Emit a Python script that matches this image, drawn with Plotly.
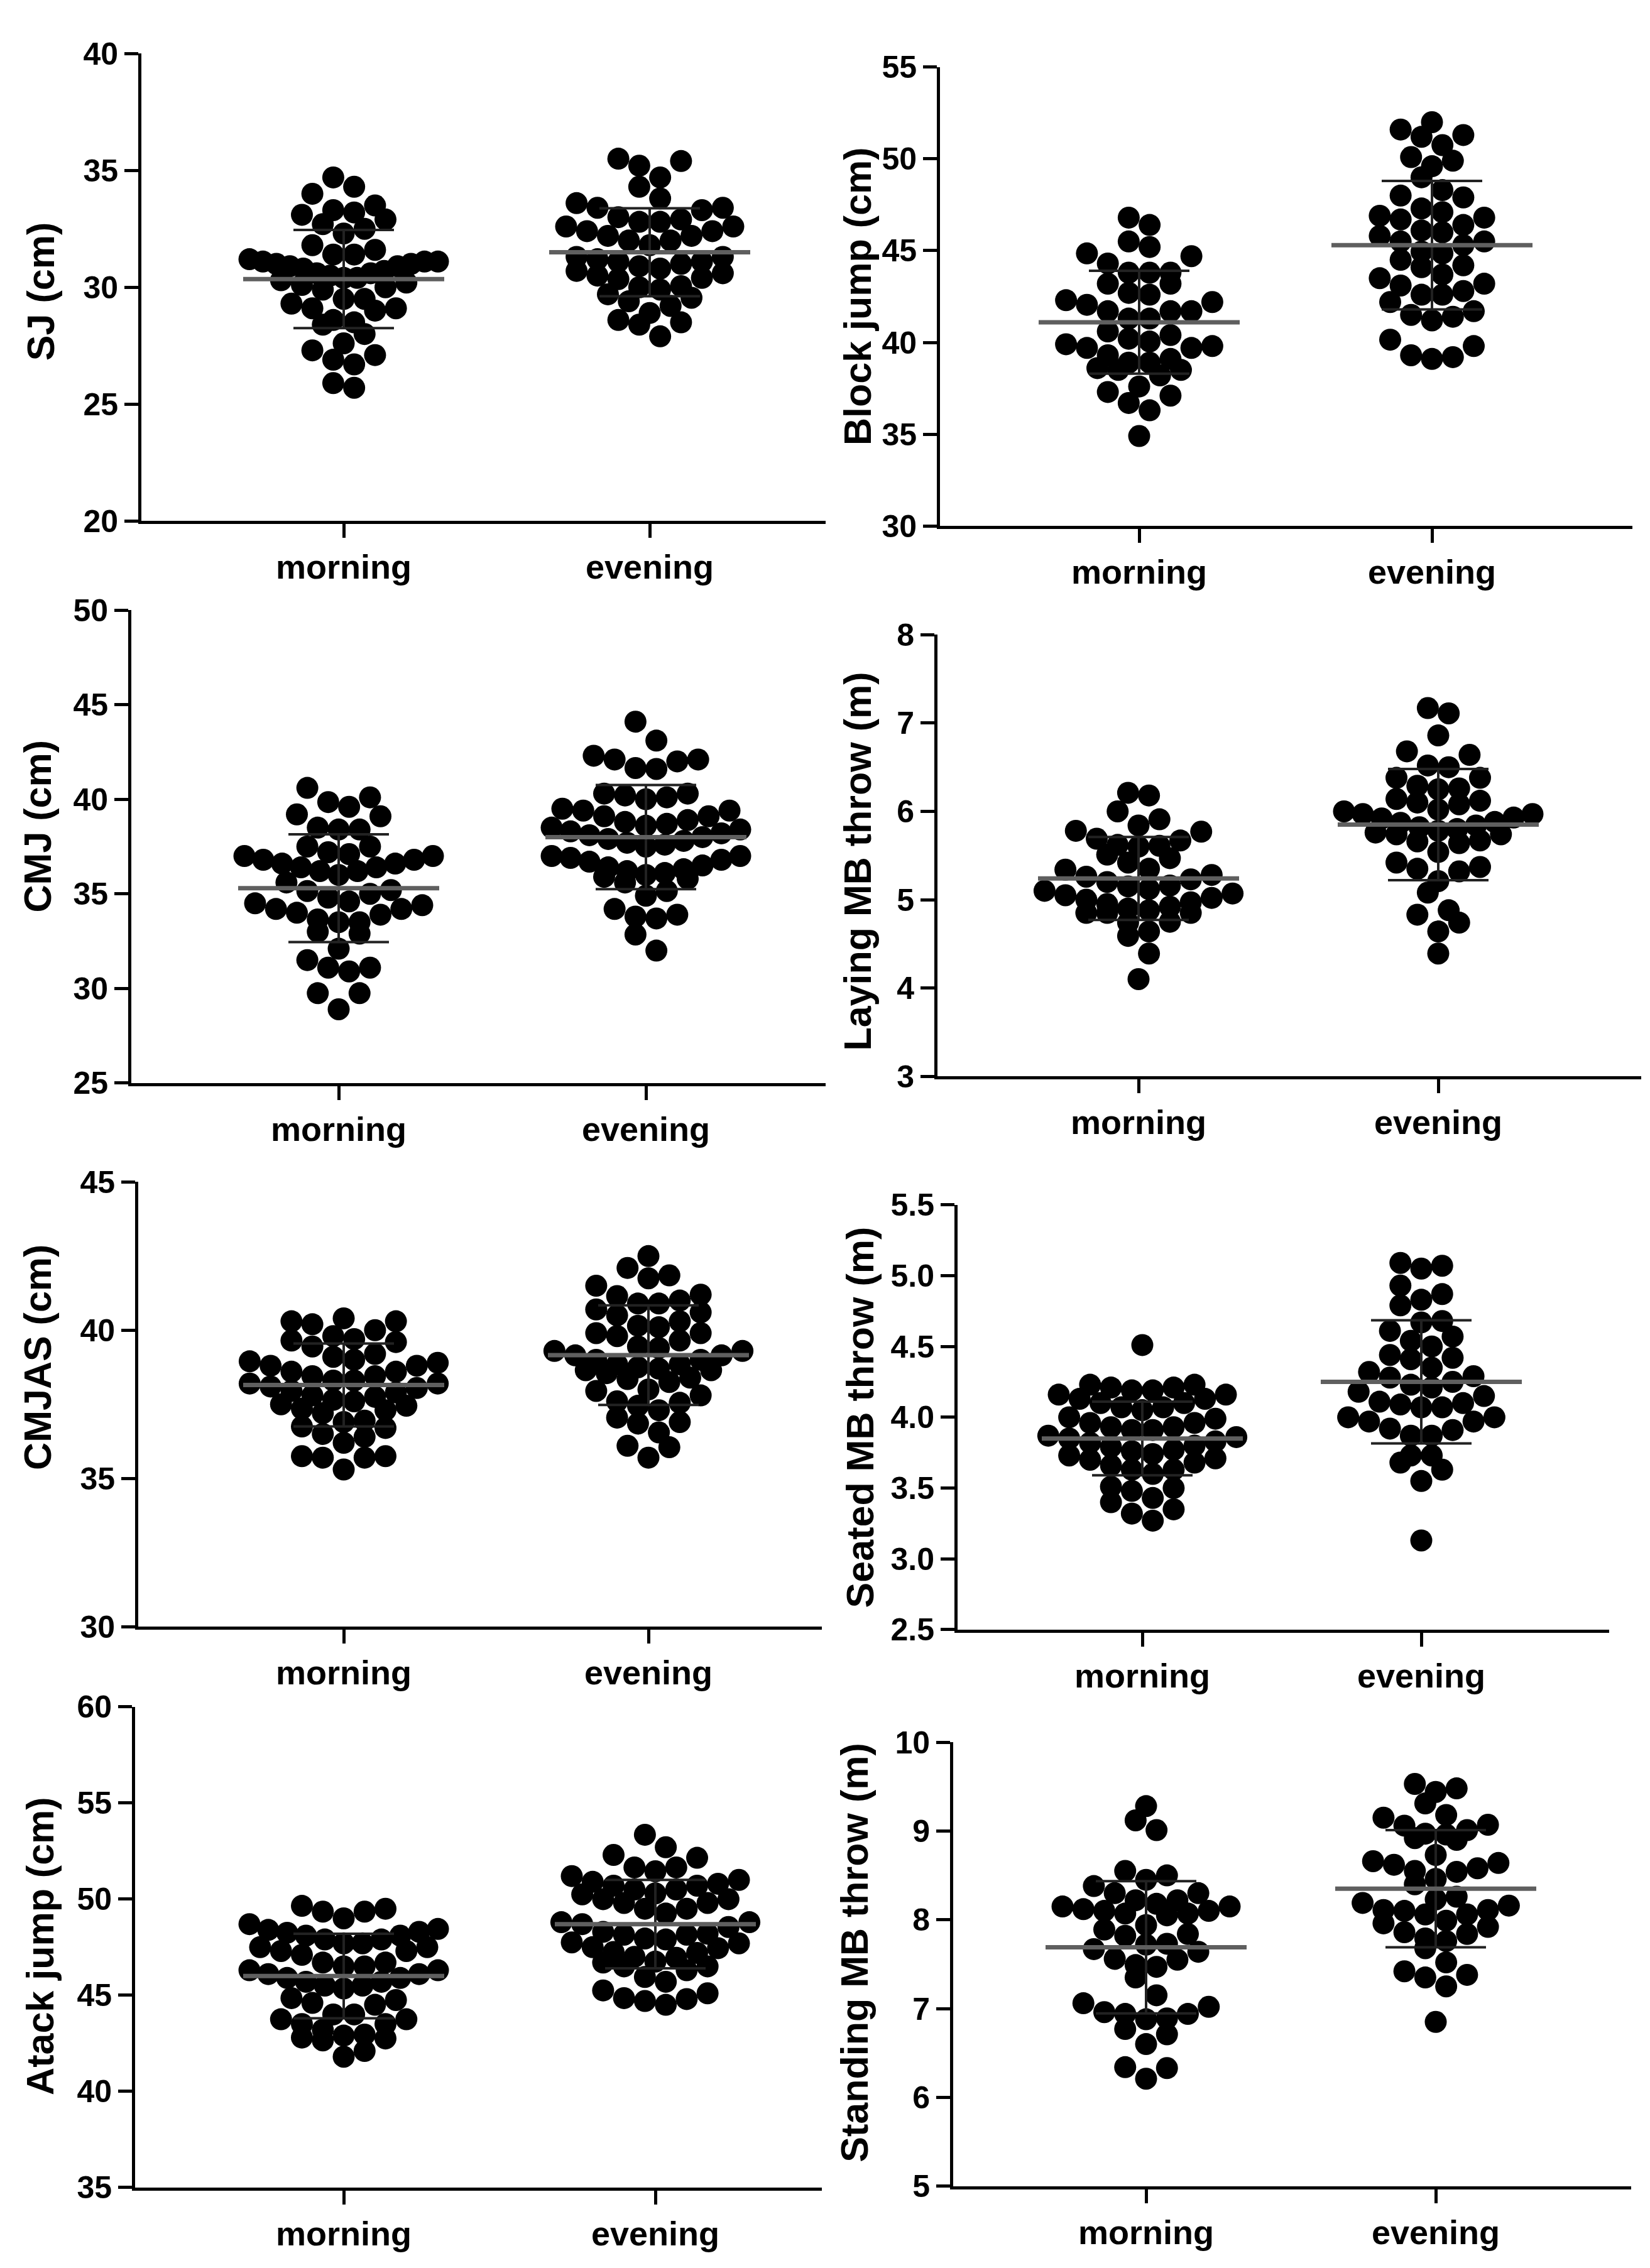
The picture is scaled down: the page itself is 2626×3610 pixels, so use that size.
import numpy as np
import plotly.graph_objects as go

W, H = 2626, 3610

groups = ["morning", "evening"]

# values, one list per column
sj_morning = [34.7, 34.0, 34.3, 33.5, 33.2, 32.9, 32.5, 32.3, 32.7, 33.1, 33.3,
              31.8, 31.4, 31.2, 31.1, 31.1, 31.4, 31.6,
              31.0, 30.9, 30.8, 30.6, 30.5, 30.4, 30.2, 30.0, 29.9, 30.1, 30.3,
              30.4, 30.6, 30.7, 30.9, 31.0, 31.1,
              29.5, 29.3, 29.1, 28.6, 28.4, 28.5, 29.0, 29.1, 29.5,
              28.0, 27.6, 27.1, 26.7, 26.9, 27.3, 25.7, 25.9]
sj_evening = [35.5, 35.2, 34.7, 35.4, 34.3, 33.8, 33.4, 33.3, 33.4, 33.6,
              33.0, 32.9, 32.8, 32.6, 32.4, 32.2, 32.0, 31.8, 32.0, 32.2, 32.4, 32.6, 32.8,
              31.3, 31.1, 30.9, 30.7, 30.5, 30.4, 30.6, 30.8, 31.0, 31.2, 31.3, 31.1,
              30.35, 30.0, 29.7, 29.4, 29.2, 29.55, 29.9, 30.05,
              28.9, 28.5, 27.9, 28.4, 28.6]

block_morning = [46.8, 46.4, 45.2, 45.5, 44.85, 44.7, 44.3, 43.8, 43.8, 43.8, 43.2, 43.2,
                 42.6, 42.7, 42.2, 42.3, 41.7, 41.7, 41.7, 42.05, 41.3, 41.3,
                 40.4, 40.05, 39.8, 39.7, 39.7, 39.9, 40.2, 40.6,
                 39.1, 38.9, 38.5, 38.2, 38.5, 38.6, 38.9, 39.3,
                 37.3, 36.7, 36.3, 37.1, 37.6, 34.9]
block_evening = [52.0, 51.2, 51.3, 51.6, 50.75, 50.1, 49.6, 49.9, 49.0, 48.3, 48.0, 47.9,
                 46.8, 46.4, 47.1, 46.7, 46.9, 47.3, 45.8, 45.5, 46.0, 46.1, 44.95, 44.85,
                 45.3, 45.5, 44.2, 43.7, 44.5, 44.1, 43.2, 42.8, 43.1, 43.5, 42.6, 42.6,
                 42.2, 41.7, 41.4, 41.2, 41.5, 40.15, 39.3, 39.1, 39.2, 39.8]

cmj_morning = [40.6, 39.85, 40.1, 39.6, 39.2, 39.1, 38.5, 38.4, 38.4, 37.5, 37.5,
               37.2, 37.0, 36.8, 36.6, 36.4, 36.2, 36.0, 36.2, 36.4, 36.6, 36.8, 37.0, 37.1,
               35.6, 35.15, 34.8, 34.5, 34.4, 34.6, 35.0, 35.2,
               34.2, 34.0, 33.65, 33.5, 32.9, 33.0, 33.5, 33.9, 34.2,
               32.1, 31.5, 31.1, 30.9, 31.1, 29.75, 29.75, 28.9]
cmj_evening = [44.1, 43.1, 42.3, 42.1, 41.65, 41.6, 42.0, 42.1,
               40.1, 40.3, 40.3, 40.0, 40.2, 39.5, 39.4, 39.1, 39.1, 39.4,
               38.8, 38.6, 38.4, 38.2, 38.0, 37.8, 37.6, 37.5, 37.7, 37.9, 38.1,
               38.3, 38.5, 38.7, 38.9,
               37.0, 36.8, 36.5, 36.3, 36.1, 35.9, 35.6, 35.8, 36.0, 36.2, 36.4,
               36.7, 36.9, 37.0,
               35.15, 34.9, 34.2, 33.8, 33.7, 33.9, 32.85, 32.0]

laying_morning = [6.18, 6.21, 6.0, 5.91, 5.84, 5.77, 5.78, 5.67, 5.61, 5.6, 5.62, 5.69,
                  5.51, 5.47, 5.42, 5.35, 5.28, 5.23, 5.2, 5.26, 5.34,
                  5.15, 5.1, 5.05, 5.0, 4.95, 4.9, 4.88, 4.92, 4.97, 5.02, 5.07, 5.12, 5.16,
                  4.85, 4.75, 4.64, 4.59, 4.39, 4.74, 4.85, 4.85, 4.1]
laying_evening = [7.17, 7.11, 6.86, 6.68, 6.64, 6.52, 6.5, 6.38, 6.38, 6.26, 6.25, 6.29,
                  6.14, 6.1, 6.08, 6.12,
                  6.02, 5.97, 5.92, 5.87, 5.82, 5.78, 5.74, 5.76, 5.8, 5.84, 5.88,
                  5.93, 5.97, 6.0,
                  5.66, 5.67, 5.74, 5.64, 5.54, 5.42, 5.37, 5.32, 5.35, 5.21, 5.08,
                  4.83, 4.88, 4.74, 4.64, 4.39]

cmjas_morning = [40.0, 39.7, 39.6, 40.3, 40.2, 40.3, 40.4, 39.65, 39.45, 39.2, 39.8,
                 39.0, 38.9, 38.8, 38.6, 38.45, 38.3, 38.2, 38.3, 38.45, 38.6, 38.8,
                 38.95, 39.1,
                 38.1, 37.95, 37.8, 37.65, 37.5, 37.35, 37.2, 37.3, 37.45, 37.6, 37.75,
                 37.9, 38.05, 38.2,
                 36.9, 36.95, 36.7, 36.4, 36.2, 36.5, 36.75,
                 35.75, 35.7, 35.7, 35.75, 35.3]
cmjas_evening = [42.5, 42.1, 41.75, 41.85, 41.5, 41.15, 41.2, 40.9, 40.7, 40.6, 40.9,
                 41.0, 40.5, 40.3, 40.1, 39.9, 39.65, 39.8, 39.9, 40.15,
                 39.4, 39.3, 39.15, 39.0, 38.85, 38.75, 38.65, 38.7, 38.85, 39.0,
                 39.15, 39.3, 39.45,
                 38.55, 38.35, 38.0, 37.8, 37.95, 38.25, 38.4, 38.65,
                 37.55, 37.3, 36.9, 36.85, 37.05, 37.45, 37.6, 36.55,
                 36.1, 35.7, 36.05]

seated_morning = [4.51,
                  4.23, 4.21, 4.19, 4.16, 4.13, 4.1, 4.07, 4.05, 4.07, 4.1, 4.13,
                  4.16, 4.19, 4.21, 4.23,
                  4.0, 3.96, 3.93, 3.91, 3.91, 3.93, 3.96, 3.99,
                  3.87, 3.85, 3.82, 3.79, 3.76, 3.73, 3.7, 3.68, 3.71, 3.74, 3.77,
                  3.8, 3.83, 3.86,
                  3.6, 3.63, 3.66, 3.63, 3.5, 3.43, 3.48, 3.51, 3.35, 3.27, 3.32, 3.4]
seated_evening = [5.09, 5.05, 5.07, 4.93, 4.83, 4.87, 4.79,
                  4.68, 4.67, 4.61, 4.54, 4.57, 4.5,
                  4.44, 4.41, 4.42, 4.35, 4.29, 4.32, 4.25, 4.21, 4.23, 4.28,
                  4.15, 4.18, 4.1, 4.07, 4.11, 4.07, 4.09,
                  4.0, 3.97, 3.97, 4.0, 3.92, 3.91, 3.87, 3.87,
                  3.73, 3.73, 3.68, 3.63, 3.55, 3.13]

attack_morning = [49.5, 49.35, 48.7, 49.0, 49.35, 49.65,
                  48.4, 48.25, 48.1, 47.9, 47.7, 47.5, 47.3, 47.1, 47.3, 47.5, 47.7,
                  47.9, 48.1, 48.3, 48.45,
                  46.7, 46.5, 46.3, 46.1, 45.9, 45.7, 45.5, 45.35, 45.5, 45.7, 45.9,
                  46.1, 46.3, 46.5, 46.7,
                  44.85, 44.75,
                  44.6, 44.0, 43.75, 43.5, 43.5, 43.75, 44.0, 44.5,
                  42.95, 42.8, 42.65, 42.75, 42.9, 43.2, 41.8, 42.1]
attack_evening = [53.35, 52.7, 52.3, 52.15, 51.65, 51.45, 51.0, 51.2, 51.65,
                  50.9, 50.7, 50.5, 50.3, 50.0, 49.8, 49.5, 49.25, 49.5, 49.8, 50.0,
                  50.25, 50.5, 50.7, 50.8,
                  48.8, 48.55, 48.2, 48.15, 48.15, 48.3, 48.7, 48.8,
                  47.9, 47.7, 47.45, 47.2, 46.95, 46.7, 46.5, 46.3, 46.5, 46.75, 47.0,
                  47.25, 47.5, 47.75, 47.95,
                  45.7, 45.1, 44.8, 44.5, 44.7, 44.85, 45.25, 45.95]

standing_morning = [9.28, 9.12, 9.01, 8.5, 8.38, 8.45, 8.55,
                    8.3, 8.22, 8.18, 8.15, 8.1, 8.07, 8.05, 8.07, 8.1, 8.12, 8.15,
                    8.22, 8.3,
                    7.94, 7.84, 7.73, 7.67, 7.72, 7.82, 7.89,
                    7.64, 7.55, 7.47, 7.35, 7.49, 7.56,
                    7.06, 6.96, 6.88, 6.94, 6.94, 7.02, 6.89, 6.77, 7.15,
                    6.71, 6.6, 6.34, 6.33, 6.21]
standing_evening = [9.48, 9.44, 9.53, 9.31, 9.18, 9.07, 9.15, 8.96, 8.9, 9.01, 9.06,
                    8.92, 8.97,
                    8.73, 8.64, 8.58, 8.54, 8.46, 8.55, 8.62, 8.66,
                    8.4, 8.26, 8.23, 8.19, 8.16, 8.11, 8.1, 8.06, 7.99, 8.06, 8.11,
                    7.96, 7.86, 7.79, 7.68, 7.76, 7.84, 7.92,
                    7.52, 7.42, 7.35, 7.25, 7.38, 6.85]

# mean and SD of each column as drawn (morning, evening)
sj_mean, sj_sd = [30.35, 31.5], [2.1, 1.88]
block_mean, block_sd = [41.1, 45.3], [2.8, 3.5]
cmj_mean, cmj_sd = [35.3, 38.0], [2.85, 2.75]
laying_mean, laying_sd = [5.24, 5.85], [0.47, 0.63]
cmjas_mean, cmjas_sd = [38.15, 39.16], [1.4, 1.68]
seated_mean, seated_sd = [3.85, 4.25], [0.26, 0.435]
attack_mean, attack_sd = [46.0, 48.7], [2.2, 2.3]
standing_mean, standing_sd = [7.69, 8.35], [0.745, 0.66]

# panel layout in page pixels: y-axis x, x-axis end, top, bottom, column centres, title x/y
panels = [
    dict(label="SJ (cm)", data=(sj_morning, sj_evening), mean=sj_mean, sd=sj_sd,
         yr=(20, 40), dtick=5, fmt="d", box=(217, 1306, 50, 806), cen=(539, 1026),
         title=(57, 435)),
    dict(label="Block jump (cm)", data=(block_morning, block_evening), mean=block_mean,
         sd=block_sd, yr=(30, 55), dtick=5, fmt="d", box=(1488, 2590, 72, 814),
         cen=(1805, 2271), title=(1357, 443)),
    dict(label="CMJ (cm)", data=(cmj_morning, cmj_evening), mean=cmj_mean, sd=cmj_sd,
         yr=(25, 50), dtick=5, fmt="d", box=(201, 1306, 950, 1715), cen=(531, 1020),
         title=(52, 1300)),
    dict(label="Laying MB throw (m)", data=(laying_morning, laying_evening),
         mean=laying_mean, sd=laying_sd, yr=(3, 8), dtick=1, fmt="d",
         box=(1484, 2604, 990, 1704), cen=(1804, 2281), title=(1357, 1357)),
    dict(label="CMJAS (cm)", data=(cmjas_morning, cmjas_evening), mean=cmjas_mean,
         sd=cmjas_sd, yr=(30, 45), dtick=5, fmt="d", box=(212, 1300, 1875, 2594),
         cen=(539, 1024), title=(52, 2159)),
    dict(label="Seated MB throw (m)", data=(seated_morning, seated_evening),
         mean=seated_mean, sd=seated_sd, yr=(2.5, 5.5), dtick=0.5, fmt=".1f",
         box=(1516, 2553, 1912, 2599), cen=(1810, 2254), title=(1361, 2256)),
    dict(label="Atack jump (cm)", data=(attack_morning, attack_evening),
         mean=attack_mean, sd=attack_sd, yr=(35, 60), dtick=5, fmt="d",
         box=(207, 1300, 2724, 3501), cen=(539, 1035), title=(56, 3111)),
    dict(label="Standing MB throw (m)", data=(standing_morning, standing_evening),
         mean=standing_mean, sd=standing_sd, yr=(5, 10), dtick=1, fmt="d",
         box=(1509, 2588, 2781, 3499), cen=(1816, 2277), title=(1352, 3121)),
]

DOT = 35          # marker diameter, px
XSTEP = 0.95      # horizontal spacing inside a row, in dot diameters
MAX_HALF = 150    # widest a row may spread from the centre, px
ROW_H = 0.9       # row height, in dot diameters
MEAN_HALF = 160   # px
CAP_HALF = 80     # px
FONT = "Liberation Sans, Arial, sans-serif"


def swarm(values, py_per_unit, px_per_unit):
    """Row beeswarm: points within one dot height share a row; the lowest value
    sits in the middle and the rest fan out left/right, squeezed to MAX_HALF."""
    vals = np.asarray(values, float)
    order = list(np.argsort(vals))
    offs = np.zeros(len(vals))
    rows, cur, start = [], [], None
    for i in order:
        y = vals[i] * py_per_unit
        if cur and y - start > DOT * ROW_H:
            rows.append(cur)
            cur = []
        if not cur:
            start = y
        cur.append(i)
    if cur:
        rows.append(cur)
    for row in rows:
        n = len(row)
        step = DOT * XSTEP
        if n > 1:
            step = min(step, 2 * MAX_HALF / (n - 1))
        if n % 2:
            slots = [0.0]
            for k in range(1, n // 2 + 1):
                slots += [k, -k]
        else:
            slots = []
            for k in range(n // 2):
                slots += [k + 0.5, -(k + 0.5)]
        for i, s in zip(row, slots):
            offs[i] = s * step / px_per_unit
    return offs


fig = go.Figure()
layout = {}

for n, p in enumerate(panels, start=1):
    x0, x1, top, bot = p["box"]
    cm, ce = p["cen"]
    spacing = ce - cm
    xr = [1 - (cm - x0) / spacing, 2 + (x1 - ce) / spacing]
    ylo, yhi = p["yr"]
    py_per_unit = (bot - top) / (yhi - ylo)
    xa = "x" if n == 1 else f"x{n}"
    ya = "y" if n == 1 else f"y{n}"
    xkey = "xaxis" if n == 1 else f"xaxis{n}"
    ykey = "yaxis" if n == 1 else f"yaxis{n}"

    for gi, vals in enumerate(p["data"]):
        xc = gi + 1
        offs = swarm(vals, py_per_unit, spacing)
        fig.add_scatter(
            x=xc + offs, y=vals, xaxis=xa, yaxis=ya, mode="markers",
            marker=dict(size=DOT, color="black", line=dict(width=0)),
            showlegend=False, hoverinfo="y",
        )
        m, s = p["mean"][gi], p["sd"][gi]
        mh = MEAN_HALF / spacing
        ch = CAP_HALF / spacing
        # SD whisker and caps
        fig.add_scatter(
            x=[xc, xc, None, xc - ch, xc + ch, None, xc - ch, xc + ch],
            y=[m - s, m + s, None, m + s, m + s, None, m - s, m - s],
            xaxis=xa, yaxis=ya, mode="lines",
            line=dict(color="#222222", width=4), showlegend=False, hoverinfo="skip",
        )
        # mean line
        fig.add_scatter(
            x=[xc - mh, xc + mh], y=[m, m], xaxis=xa, yaxis=ya, mode="lines",
            line=dict(color="#5f5f5f", width=7), showlegend=False, hoverinfo="skip",
        )

    layout[xkey] = dict(
        domain=[x0 / W, x1 / W], range=xr, anchor=ya,
        tickvals=[1, 2], ticktext=groups,
        showline=True, linecolor="black", linewidth=5,
        ticks="outside", ticklen=22, tickwidth=5, tickcolor="black",
        tickfont=dict(family=FONT, size=54, color="black", weight="bold"),
        showgrid=False, zeroline=False,
    )
    layout[ykey] = dict(
        domain=[1 - bot / H, 1 - top / H], range=[ylo, yhi], anchor=xa,
        dtick=p["dtick"], tick0=ylo, tickformat=p["fmt"],
        showline=True, linecolor="black", linewidth=5,
        ticks="outside", ticklen=22, tickwidth=5, tickcolor="black",
        tickfont=dict(family=FONT, size=50, color="black", weight="bold"),
        showgrid=False, zeroline=False,
    )
    tx, ty = p["title"]
    fig.add_annotation(
        x=tx / W, y=1 - ty / H, xref="paper", yref="paper", text=p["label"],
        textangle=-90, showarrow=False, xanchor="center", yanchor="middle",
        font=dict(family=FONT, size=61, color="black", weight="bold"),
    )

fig.update_layout(
    width=W, height=H, margin=dict(l=0, r=0, t=0, b=0),
    paper_bgcolor="white", plot_bgcolor="white", showlegend=False,
    **layout,
)
fig.write_html("out.html")
